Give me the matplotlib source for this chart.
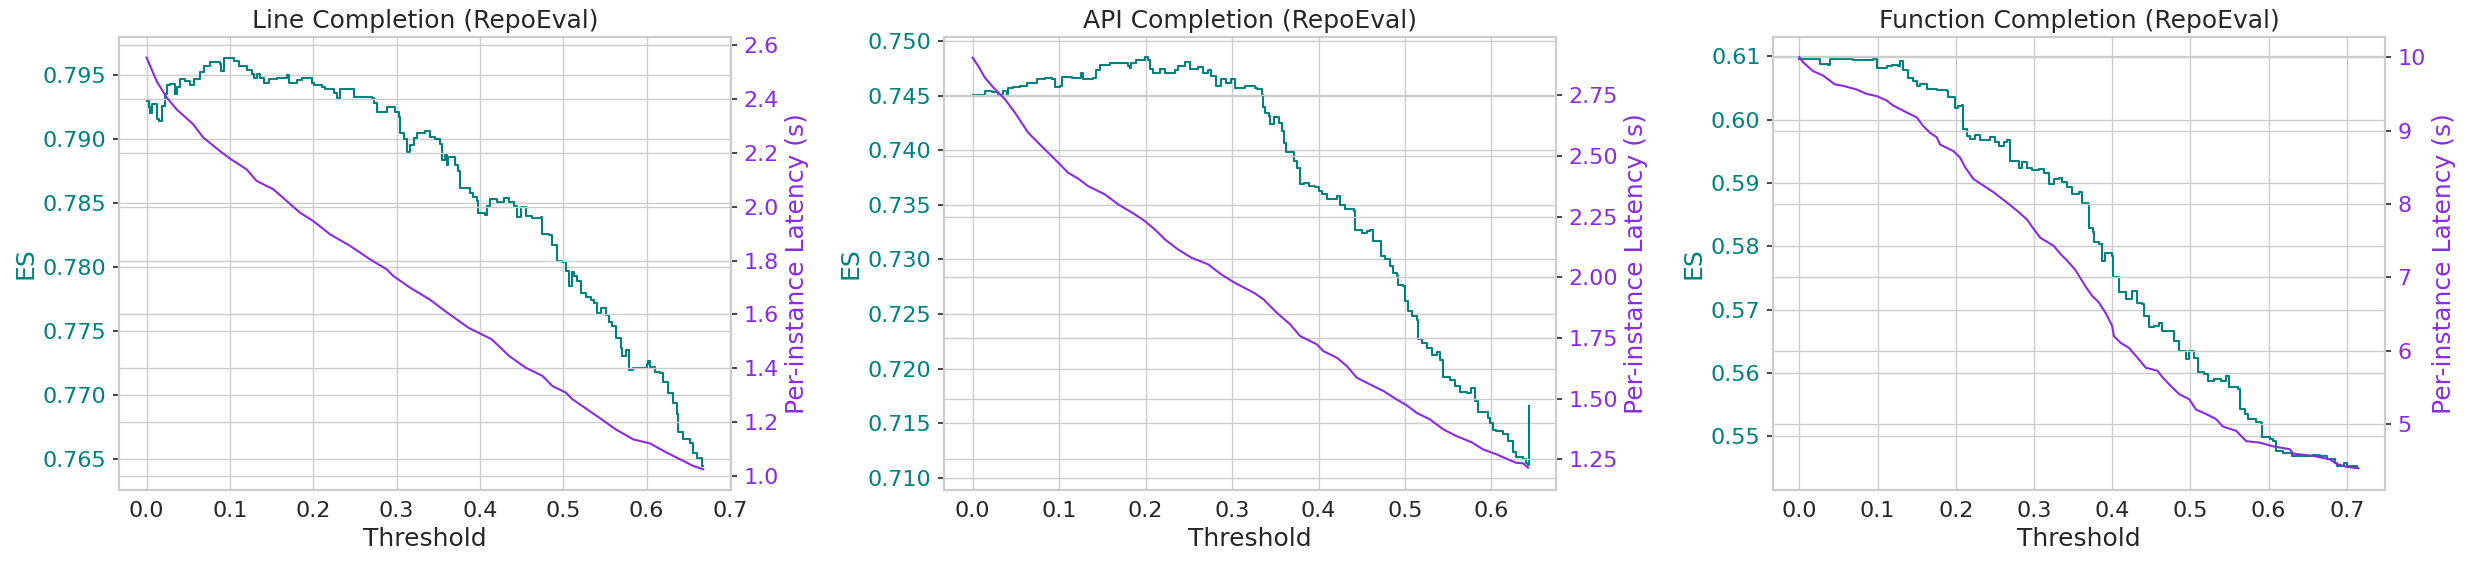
import matplotlib
matplotlib.use("Agg")
import matplotlib.pyplot as plt

plt.rcParams['font.family'] = ['DejaVu Sans']
plt.rcParams['axes.edgecolor'] = '#cccccc'
plt.rcParams['axes.linewidth'] = 1.5
plt.rcParams['grid.color'] = '#cccccc'
plt.rcParams['grid.linewidth'] = 1.0
plt.rcParams['text.color'] = '#262626'
plt.rcParams['axes.labelcolor'] = '#262626'

titles = ["Line Completion (RepoEval)", "API Completion (RepoEval)", "Function Completion (RepoEval)"]

# Line completion
line_es_x = [0.000, 0.0024, 0.0044, 0.0064, 0.0124, 0.0152, 0.0184, 0.0224, 0.0244, 0.0284, 0.0344, 0.0364,
             0.0404, 0.0464, 0.0524, 0.0564, 0.0644, 0.0684, 0.0764, 0.0884, 0.0896, 0.0924, 0.1004, 0.1044,
             0.1104, 0.1204, 0.1264, 0.1284, 0.1324, 0.1364, 0.1404, 0.1464, 0.1564, 0.1684, 0.1704, 0.1804,
             0.1864, 0.1984, 0.2004, 0.2104, 0.2144, 0.2244, 0.2284, 0.2324, 0.2464, 0.2484, 0.2704, 0.2724,
             0.2764, 0.2864, 0.2884, 0.2924, 0.2984, 0.3024, 0.3044, 0.3084, 0.3124, 0.3164, 0.3204, 0.3244,
             0.3344, 0.3404, 0.346, 0.352, 0.354, 0.358, 0.360, 0.362, 0.370, 0.374, 0.376, 0.388, 0.392,
             0.396, 0.398, 0.406, 0.408, 0.412, 0.421, 0.429, 0.435, 0.441, 0.445, 0.449, 0.455, 0.463, 0.473,
             0.475, 0.483, 0.487, 0.492, 0.499, 0.503, 0.507, 0.511, 0.513, 0.517, 0.521, 0.527, 0.533, 0.537,
             0.541, 0.545, 0.551, 0.555, 0.559, 0.563, 0.569, 0.571, 0.575, 0.579, 0.584, 0.592, 0.600, 0.602,
             0.604, 0.610, 0.616, 0.620, 0.626, 0.632, 0.636, 0.638, 0.644, 0.652, 0.656, 0.660, 0.666, 0.668]
line_es = [0.7930, 0.7925, 0.7920, 0.7927, 0.7916, 0.7914, 0.7926, 0.7935, 0.7942, 0.7943, 0.7935, 0.7941,
           0.7947, 0.7945, 0.7942, 0.7947, 0.7952, 0.7957, 0.7960, 0.7959, 0.7953, 0.7963, 0.7963, 0.7961,
           0.7957, 0.7954, 0.7951, 0.7948, 0.7951, 0.7948, 0.7944, 0.7947, 0.7948, 0.7950, 0.7944, 0.7946,
           0.7948, 0.7944, 0.7942, 0.7941, 0.7939, 0.7936, 0.7932, 0.7939, 0.7939, 0.7933, 0.7932, 0.7928,
           0.7921, 0.7921, 0.7925, 0.7925, 0.7921, 0.7917, 0.7905, 0.7900, 0.7890, 0.7895, 0.7901, 0.7905,
           0.7906, 0.7902, 0.7900, 0.7896, 0.7884, 0.7888, 0.7880, 0.7886, 0.7880, 0.7875, 0.7862, 0.7858,
           0.7855, 0.7852, 0.7842, 0.7841, 0.7848, 0.7853, 0.7851, 0.7854, 0.7851, 0.7848, 0.7839, 0.7847,
           0.7840, 0.7838, 0.7839, 0.7826, 0.7825, 0.7817, 0.7805, 0.7804, 0.7797, 0.7785, 0.7796, 0.7793,
           0.7789, 0.7780, 0.7777, 0.7774, 0.7772, 0.7764, 0.7768, 0.7763, 0.7757, 0.7754, 0.7745, 0.7737,
           0.7731, 0.7735, 0.7720, 0.7721, 0.7721, 0.7724, 0.7727, 0.7722, 0.7718, 0.7717, 0.7710, 0.7702,
           0.7694, 0.7685, 0.7671, 0.7666, 0.7663, 0.7655, 0.7651, 0.7645, 0.7645]
line_lat_x = [0.000, 0.012, 0.024, 0.036, 0.056, 0.068, 0.088, 0.100, 0.120, 0.132, 0.152, 0.168, 0.184,
              0.200, 0.220, 0.244, 0.268, 0.288, 0.296, 0.316, 0.340, 0.358, 0.386, 0.414, 0.435, 0.455,
              0.475, 0.487, 0.503, 0.511, 0.543, 0.563, 0.584, 0.604, 0.624, 0.644, 0.656, 0.668]
line_lat = [2.554, 2.467, 2.406, 2.362, 2.306, 2.257, 2.207, 2.179, 2.139, 2.096, 2.065, 2.022, 1.978,
            1.947, 1.898, 1.855, 1.805, 1.768, 1.743, 1.700, 1.655, 1.613, 1.551, 1.508, 1.446, 1.402,
            1.372, 1.334, 1.310, 1.285, 1.217, 1.173, 1.136, 1.121, 1.087, 1.056, 1.037, 1.025]

# API completion
api_es_x = [0.0, 0.0104, 0.0142, 0.0219, 0.0296, 0.0354, 0.0393, 0.0412, 0.0470, 0.0547, 0.0624, 0.0739,
            0.0836, 0.0913, 0.0951, 0.1009, 0.1028, 0.1144, 0.1259, 0.1278, 0.1394, 0.1432, 0.1471, 0.1586,
            0.1798, 0.1817, 0.1837, 0.1894, 0.1991, 0.2029, 0.2049, 0.2087, 0.2164, 0.2222, 0.2337, 0.2376,
            0.2453, 0.2511, 0.2607, 0.2665, 0.2722, 0.2761, 0.2819, 0.2876, 0.2934, 0.2992, 0.3030, 0.3146,
            0.3261, 0.3288, 0.3346, 0.3358, 0.3385, 0.3423, 0.3442, 0.3481, 0.3519, 0.3538, 0.3577, 0.3596,
            0.3627, 0.3692, 0.3712, 0.3750, 0.3781, 0.3827, 0.3885, 0.3962, 0.4000, 0.4038, 0.4096, 0.4173,
            0.4212, 0.4250, 0.4308, 0.4412, 0.4423, 0.4500, 0.4558, 0.4596, 0.4635, 0.4692, 0.4723, 0.4769,
            0.4827, 0.4865, 0.4904, 0.4923, 0.4981, 0.5000, 0.5038, 0.5077, 0.5135, 0.5154, 0.5192, 0.5250,
            0.5308, 0.5365, 0.5404, 0.5442, 0.5519, 0.5577, 0.5635, 0.5712, 0.5769, 0.5808, 0.5846, 0.5923,
            0.5962, 0.5981, 0.6019, 0.6058, 0.6135, 0.6192, 0.6250, 0.6288, 0.6365, 0.6404, 0.6427, 0.6435]
api_es = [0.7451, 0.7451, 0.7454, 0.7453, 0.7451, 0.7454, 0.7451, 0.7457, 0.7458, 0.7459, 0.7462, 0.7465,
          0.7466, 0.7465, 0.7458, 0.7459, 0.7467, 0.7466, 0.7471, 0.7465, 0.7466, 0.7473, 0.7478, 0.7480,
          0.7477, 0.7475, 0.7480, 0.7483, 0.7485, 0.7483, 0.7474, 0.7471, 0.7474, 0.7471, 0.7473, 0.7477,
          0.7481, 0.7474, 0.7476, 0.7471, 0.7473, 0.7468, 0.7459, 0.7465, 0.7462, 0.7465, 0.7457, 0.7459,
          0.7457, 0.7456, 0.7451, 0.7440, 0.7434, 0.7431, 0.7424, 0.7430, 0.7430, 0.7425, 0.7418, 0.7407,
          0.7398, 0.7398, 0.7390, 0.7384, 0.7369, 0.7370, 0.7367, 0.7366, 0.7363, 0.7360, 0.7355, 0.7355,
          0.7358, 0.7350, 0.7346, 0.7344, 0.7327, 0.7324, 0.7326, 0.7327, 0.7317, 0.7317, 0.7303, 0.7300,
          0.7294, 0.7288, 0.7285, 0.7277, 0.7276, 0.7262, 0.7253, 0.7248, 0.7245, 0.7227, 0.7224, 0.7219,
          0.7213, 0.7215, 0.7208, 0.7192, 0.7190, 0.7184, 0.7179, 0.7178, 0.7182, 0.7170, 0.7160, 0.7160,
          0.7155, 0.7150, 0.7144, 0.7143, 0.7140, 0.7134, 0.7124, 0.7119, 0.7117, 0.7114, 0.7112, 0.7166]
api_lat_x = [0.0, 0.0065, 0.0142, 0.0258, 0.0374, 0.0489, 0.0643, 0.0797, 0.0913, 0.1009, 0.1105, 0.1221,
             0.1336, 0.1529, 0.1683, 0.1875, 0.1991, 0.2106, 0.2222, 0.2376, 0.2530, 0.2722, 0.2876, 0.3030,
             0.3261, 0.3365, 0.3519, 0.3673, 0.3788, 0.3981, 0.4058, 0.4212, 0.4327, 0.4442, 0.4596, 0.4750,
             0.4904, 0.5019, 0.5135, 0.5288, 0.5442, 0.5596, 0.5769, 0.5904, 0.6058, 0.6212, 0.6288, 0.6365,
             0.6423]
api_lat = [2.905, 2.871, 2.823, 2.775, 2.734, 2.679, 2.596, 2.541, 2.500, 2.466, 2.431, 2.407,
           2.376, 2.342, 2.301, 2.260, 2.232, 2.198, 2.157, 2.115, 2.081, 2.054, 2.012, 1.978,
           1.935, 1.909, 1.854, 1.806, 1.758, 1.724, 1.696, 1.669, 1.635, 1.587, 1.559, 1.532,
           1.497, 1.473, 1.442, 1.415, 1.374, 1.346, 1.321, 1.291, 1.271, 1.247, 1.236, 1.234,
           1.216]

# Function completion
func_es_x = [0.0, 0.0239, 0.0261, 0.0368, 0.0389, 0.0645, 0.0688, 0.0944, 0.0987, 0.1115, 0.1179, 0.1265,
             0.1286, 0.1329, 0.1393, 0.1457, 0.1500, 0.1543, 0.1628, 0.1756, 0.1885, 0.1906, 0.1991, 0.2034,
             0.2077, 0.2098, 0.2141, 0.2184, 0.2248, 0.2312, 0.2440, 0.2504, 0.2547, 0.2611, 0.2654, 0.2688,
             0.2739, 0.2803, 0.2846, 0.2910, 0.2974, 0.3060, 0.3124, 0.3188, 0.3252, 0.3316, 0.3359, 0.3423,
             0.3487, 0.3571, 0.3614, 0.3691, 0.3700, 0.3751, 0.3764, 0.3829, 0.3871, 0.3914, 0.4000, 0.4013,
             0.4086, 0.4171, 0.4214, 0.4257, 0.4321, 0.4386, 0.4407, 0.4471, 0.4536, 0.4600, 0.4643, 0.4750,
             0.4793, 0.4857, 0.4943, 0.4986, 0.5050, 0.5093, 0.5179, 0.5222, 0.5307, 0.5393, 0.5457, 0.5500,
             0.5607, 0.5629, 0.5693, 0.5736, 0.5843, 0.5907, 0.5920, 0.6015, 0.6057, 0.6100, 0.6186, 0.6293,
             0.6486, 0.6572, 0.6658, 0.6743, 0.6850, 0.6872, 0.6958, 0.7000, 0.7129]
func_es = [0.6096, 0.6096, 0.6087, 0.6086, 0.6095, 0.6095, 0.6094, 0.6096, 0.6081, 0.6084, 0.6086, 0.6084,
           0.6093, 0.6079, 0.6066, 0.6061, 0.6053, 0.6056, 0.6048, 0.6047, 0.6045, 0.6035, 0.6019, 0.6022,
           0.6023, 0.5985, 0.5974, 0.5970, 0.5975, 0.5968, 0.5973, 0.5964, 0.5958, 0.5965, 0.5968, 0.5935,
           0.5935, 0.5924, 0.5933, 0.5924, 0.5921, 0.5922, 0.5916, 0.5898, 0.5906, 0.5908, 0.5901, 0.5893,
           0.5882, 0.5885, 0.5869, 0.5866, 0.5829, 0.5822, 0.5806, 0.5803, 0.5777, 0.5790, 0.5785, 0.5751,
           0.5727, 0.5716, 0.5716, 0.5729, 0.5711, 0.5708, 0.5690, 0.5672, 0.5674, 0.5678, 0.5666, 0.5666,
           0.5651, 0.5635, 0.5622, 0.5635, 0.5624, 0.5601, 0.5598, 0.5587, 0.5590, 0.5587, 0.5595, 0.5577,
           0.5574, 0.5543, 0.5535, 0.5527, 0.5523, 0.5521, 0.5498, 0.5495, 0.5493, 0.5477, 0.5474, 0.5468,
           0.5468, 0.5470, 0.5469, 0.5464, 0.5458, 0.5453, 0.5457, 0.5453, 0.5449]
func_lat_x = [0.0, 0.0047, 0.0175, 0.0303, 0.0453, 0.0560, 0.0731, 0.0859, 0.0987, 0.1115, 0.1201, 0.1329,
              0.1500, 0.1585, 0.1671, 0.1756, 0.1799, 0.1970, 0.2056, 0.2120, 0.2226, 0.2397, 0.2483, 0.2654,
              0.2782, 0.2910, 0.2996, 0.3081, 0.3252, 0.3338, 0.3423, 0.3530, 0.3657, 0.3743, 0.3829, 0.3914,
              0.4000, 0.4021, 0.4107, 0.4214, 0.4321, 0.4429, 0.4579, 0.4643, 0.4750, 0.4857, 0.4986, 0.5072,
              0.5200, 0.5329, 0.5414, 0.5586, 0.5714, 0.5886, 0.6057, 0.6272, 0.6315, 0.6572, 0.6786, 0.6872,
              0.7000, 0.7150]
func_lat = [10.00, 9.93, 9.81, 9.75, 9.63, 9.61, 9.56, 9.50, 9.47, 9.41, 9.34, 9.27,
            9.18, 9.06, 8.97, 8.91, 8.81, 8.72, 8.63, 8.50, 8.34, 8.22, 8.16, 8.02,
            7.91, 7.79, 7.66, 7.54, 7.43, 7.32, 7.23, 7.10, 6.88, 6.75, 6.66, 6.52,
            6.34, 6.20, 6.11, 6.04, 5.91, 5.77, 5.73, 5.64, 5.52, 5.41, 5.34, 5.20,
            5.14, 5.07, 4.97, 4.91, 4.77, 4.75, 4.70, 4.66, 4.60, 4.57, 4.52, 4.46,
            4.42, 4.40]

es_x = [line_es_x, api_es_x, func_es_x]
es_y = [line_es, api_es, func_es]
lat_x = [line_lat_x, api_lat_x, func_lat_x]
lat_y = [line_lat, api_lat, func_lat]

xlims = [(-0.0330, 0.7015), (-0.0331, 0.6747), (-0.0337, 0.7490)]
es_lims = [(0.7626, 0.7980), (0.7089, 0.7504), (0.5415, 0.6131)]
lat_lims = [(0.948, 2.632), (1.124, 2.992), (4.105, 10.28)]
lefts = [0.0483, 0.3828, 0.7190]

es_color = 'teal'
lat_color = 'blueviolet'

fig = plt.figure(figsize=(24.66, 5.66), dpi=100)
for i in range(3):
    ax = fig.add_axes([lefts[i], 0.1343, 0.2482, 0.801])
    ax.grid(True)
    ax.set_axisbelow(True)
    ax.plot(es_x[i], es_y[i], color=es_color, lw=1.5, drawstyle='steps-post')
    ax.set_xlim(xlims[i])
    ax.set_ylim(es_lims[i])
    ax.set_xlabel("Threshold", fontsize=18)
    ax.set_ylabel("ES", fontsize=18, color=es_color)
    ax.set_title(titles[i], fontsize=18)
    ax.tick_params(axis='x', length=0, pad=8, labelsize=16, labelcolor='#262626')
    ax.tick_params(axis='y', length=4.5, width=1.2, color='#262626', pad=4.5, labelsize=16, labelcolor=es_color)

    ax2 = ax.twinx()
    ax2.grid(True)
    ax2.plot(lat_x[i], lat_y[i], color=lat_color, lw=1.5)
    ax2.set_ylim(lat_lims[i])
    ax2.set_ylabel("Per-instance Latency (s)", fontsize=18, color=lat_color)
    ax2.tick_params(axis='y', length=4.5, width=1.2, color='#262626', pad=4.5, labelsize=16, labelcolor=lat_color)
    for sp in ax2.spines.values():
        sp.set_color('#cccccc')

fig.savefig("out.png", dpi=100)
